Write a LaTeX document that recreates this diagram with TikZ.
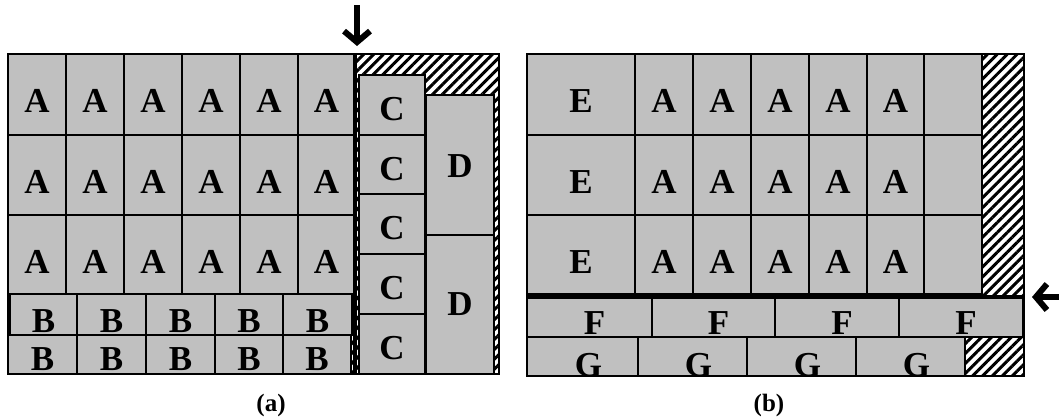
\documentclass[tikz,border=0pt]{standalone}
\usepackage{fontspec}
\setmainfont{Liberation Serif}
\usetikzlibrary{patterns.meta, arrows.meta}
\definecolor{boxgray}{HTML}{C0C0C0}

\begin{document}
\begin{tikzpicture}[
  x=1pt, y=-1pt,
  cellbox/.style={draw, line width=1.5pt, fill=boxgray},
  hatch/.style={pattern={Lines[angle=45,distance=7pt,line width=3pt]}},
  lbl/.style={font=\fontsize{35}{35}\selectfont\bfseries, anchor=base, inner sep=0pt},
  sub/.style={font=\fontsize{25}{25}\selectfont\bfseries, inner sep=0pt},
  cutline/.style={line width=4pt},
  mover/.style={line width=6pt, -{Straight Barb[length=11pt,width=26pt]}}
]
\useasboundingbox (0,0) rectangle (1059,418);

% panel (a)
\fill[hatch] (8,54) rectangle (499,374);
\foreach \xl/\xr [count=\c] in {8/66,66/124,124/182,182/240,240/298,298/355}
  \foreach \yt/\yb [count=\r] in {54/135,135/215,215/294} {
    \draw[cellbox] (\xl,\yt) rectangle (\xr,\yb);
    \node[lbl] (a\r\c) at ({(\xl+\xr)/2},{\yt+58}) {A};
  }
\foreach \xl/\xr [count=\c] in {10/77,77/146,146/215,215/283,283/352} {
  \draw[cellbox] (\xl,294) rectangle (\xr,335);
  \node[lbl] (b1\c) at ({(\xl+\xr)/2},332) {B};
}
\foreach \xl/\xr [count=\c] in {8/77,77/146,146/215,215/283,283/351} {
  \draw[cellbox] (\xl,335) rectangle (\xr,374);
  \node[lbl] (b2\c) at ({(\xl+\xr)/2},370) {B};
}
\foreach \yt/\yb [count=\r] in {75/135,135/194,194/254,254/314,314/374} {
  \draw[cellbox] (359,\yt) rectangle (425,\yb);
  \node[lbl] (c\r) at (392,{\yt+45}) {C};
}
\draw[cellbox] (426,95) rectangle (494,235);
\node[lbl] (d1) at (460,177) {D};
\draw[cellbox] (426,235) rectangle (494,374);
\node[lbl] (d2) at (460,315) {D};

\draw[cutline] (355,54) -- (355,374);
\draw[line width=2pt] (8,54) rectangle (499,374);

\coordinate (cuta start) at (357,5);
\coordinate (cuta end) at (357,46);
\draw[mover] (cuta start) -- (cuta end);

\node[sub] (capa) at (271,405) {(a)};

% panel (b)
\fill[hatch] (527,54) rectangle (1024,376);
\foreach \yt/\yb [count=\r] in {54/135,135/215,215/294} {
  \draw[cellbox] (527,\yt) rectangle (635,\yb);
  \node[lbl] (e\r) at (581,{\yt+58}) {E};
  \foreach \xl/\xr [count=\c] in {635/693,693/751,751/809,809/867,867/924} {
    \draw[cellbox] (\xl,\yt) rectangle (\xr,\yb);
    \node[lbl] (ba\r\c) at ({(\xl+\xr)/2},{\yt+58}) {A};
  }
  \draw[cellbox] (924,\yt) rectangle (982,\yb);
}
\foreach \xl/\xr [count=\c] in {527/652,652/775,775/899,899/1023} {
  \draw[cellbox] (\xl,297) rectangle (\xr,337);
  \node[lbl] (f\c) at ({(\xl+\xr)/2+5},334) {F};
}
\foreach \xl/\xr in {527/638,638/747,747/856,856/965}
  \draw[cellbox] (\xl,337) rectangle (\xr,376);
\begin{scope}
  \clip (527,337) rectangle (965,376);
  \foreach \xl/\xr [count=\c] in {527/638,638/747,747/856,856/965}
    \node[lbl] (g\c) at ({(\xl+\xr)/2+6},376) {G};
\end{scope}

\draw[cutline] (527,297) -- (1024,297);
\draw[line width=2pt] (527,54) rectangle (1024,376);

\coordinate (cutb start) at (1059,297);
\coordinate (cutb end) at (1032,297);
\draw[mover] (cutb start) -- (cutb end);

\node[sub] (capb) at (769,405) {(b)};

\end{tikzpicture}
\end{document}
